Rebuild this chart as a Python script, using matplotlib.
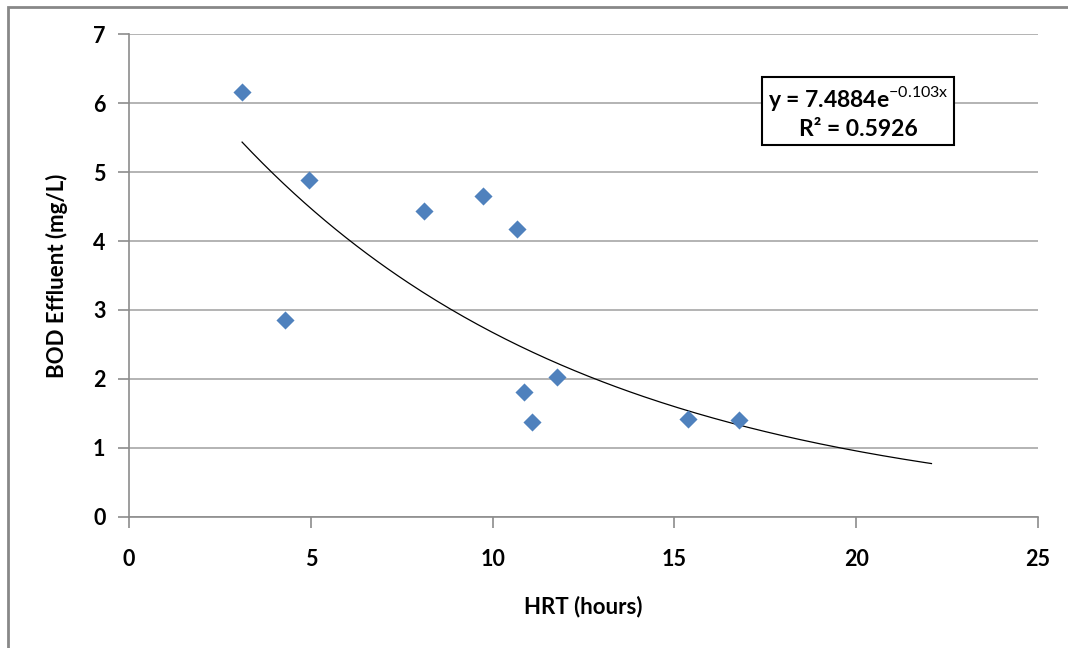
import numpy as np
import matplotlib.pyplot as plt
from matplotlib.patches import Rectangle

# HRT (hours) and BOD effluent (mg/L)
hrt = [3.11, 4.29, 4.95, 8.11, 9.73, 10.66, 10.87, 11.09, 11.78, 15.38, 16.78]
bod = [6.16, 2.85, 4.89, 4.43, 4.65, 4.17, 1.81, 1.37, 2.03, 1.42, 1.40]

# Exponential trendline y = a * exp(b * x), as reported on the chart
trend_a = 7.4884
trend_b = -0.103
trend_r2 = 0.5926
trend_range = [3.11, 22.07]

x_ticks = [0, 5, 10, 15, 20, 25]
y_ticks = [0, 1, 2, 3, 4, 5, 6, 7]

plt.rcParams['font.family'] = ['Lato', 'DejaVu Sans']
plt.rcParams['mathtext.fontset'] = 'custom'
plt.rcParams['mathtext.rm'] = 'Lato'
plt.rcParams['mathtext.bf'] = 'Lato:bold'

fig = plt.figure(figsize=(10.68, 6.48), dpi=100)
ax = fig.add_axes([129 / 1068, 1 - 516.7 / 648, 909 / 1068, 482.4 / 648])

grid_c = '#B3B3B3'
axis_c = '#8C8C8C'

ax.scatter(hrt, bod, marker='D', s=85, color='#4F81BD', linewidths=0, zorder=3)

xt = np.linspace(trend_range[0], trend_range[1], 200)
ax.plot(xt, trend_a * np.exp(trend_b * xt), color='black', lw=0.9, zorder=2)

ax.set_xlim(x_ticks[0], x_ticks[-1])
ax.set_ylim(y_ticks[0], y_ticks[-1])
ax.set_xticks(x_ticks)
ax.set_yticks(y_ticks)
ax.yaxis.grid(True, color=grid_c, lw=1.4)
ax.set_axisbelow(True)

for s in ['top', 'right']:
    ax.spines[s].set_visible(False)
for s in ['left', 'bottom']:
    ax.spines[s].set_color(axis_c)
    ax.spines[s].set_linewidth(1.2)

ax.tick_params(axis='both', direction='out', length=8, width=1.2, color=axis_c,
               labelsize=15.5)
ax.tick_params(axis='y', pad=9)
ax.tick_params(axis='x', pad=15)
for lab in ax.get_xticklabels() + ax.get_yticklabels():
    lab.set_fontweight('bold')

ax.set_xlabel('HRT (hours)', fontsize=16, fontweight='bold', labelpad=19)
ax.set_ylabel('BOD Effluent (mg/L)', fontsize=16, fontweight='bold', labelpad=18)

eq = (r'y = %.4fe$^{\mathrm{%.3fx}}$' % (trend_a, trend_b)) + '\n' + 'R² = %.4f' % trend_r2
ax.text(0.802, 0.839, eq, transform=ax.transAxes, ha='center', va='center',
        fontsize=16.5, fontweight='bold', linespacing=1.3,
        bbox=dict(boxstyle='square,pad=0.24', fc='white', ec='black', lw=1.5))

# outer chart border (only left and top edges are visible in the crop)
fig.patches.append(Rectangle((8 / 1068, -0.1), 1.2, (1 - 7 / 648) + 0.1,
                             transform=fig.transFigure, fill=False,
                             ec='#888888', lw=2))

fig.savefig('out.png', dpi=100)
